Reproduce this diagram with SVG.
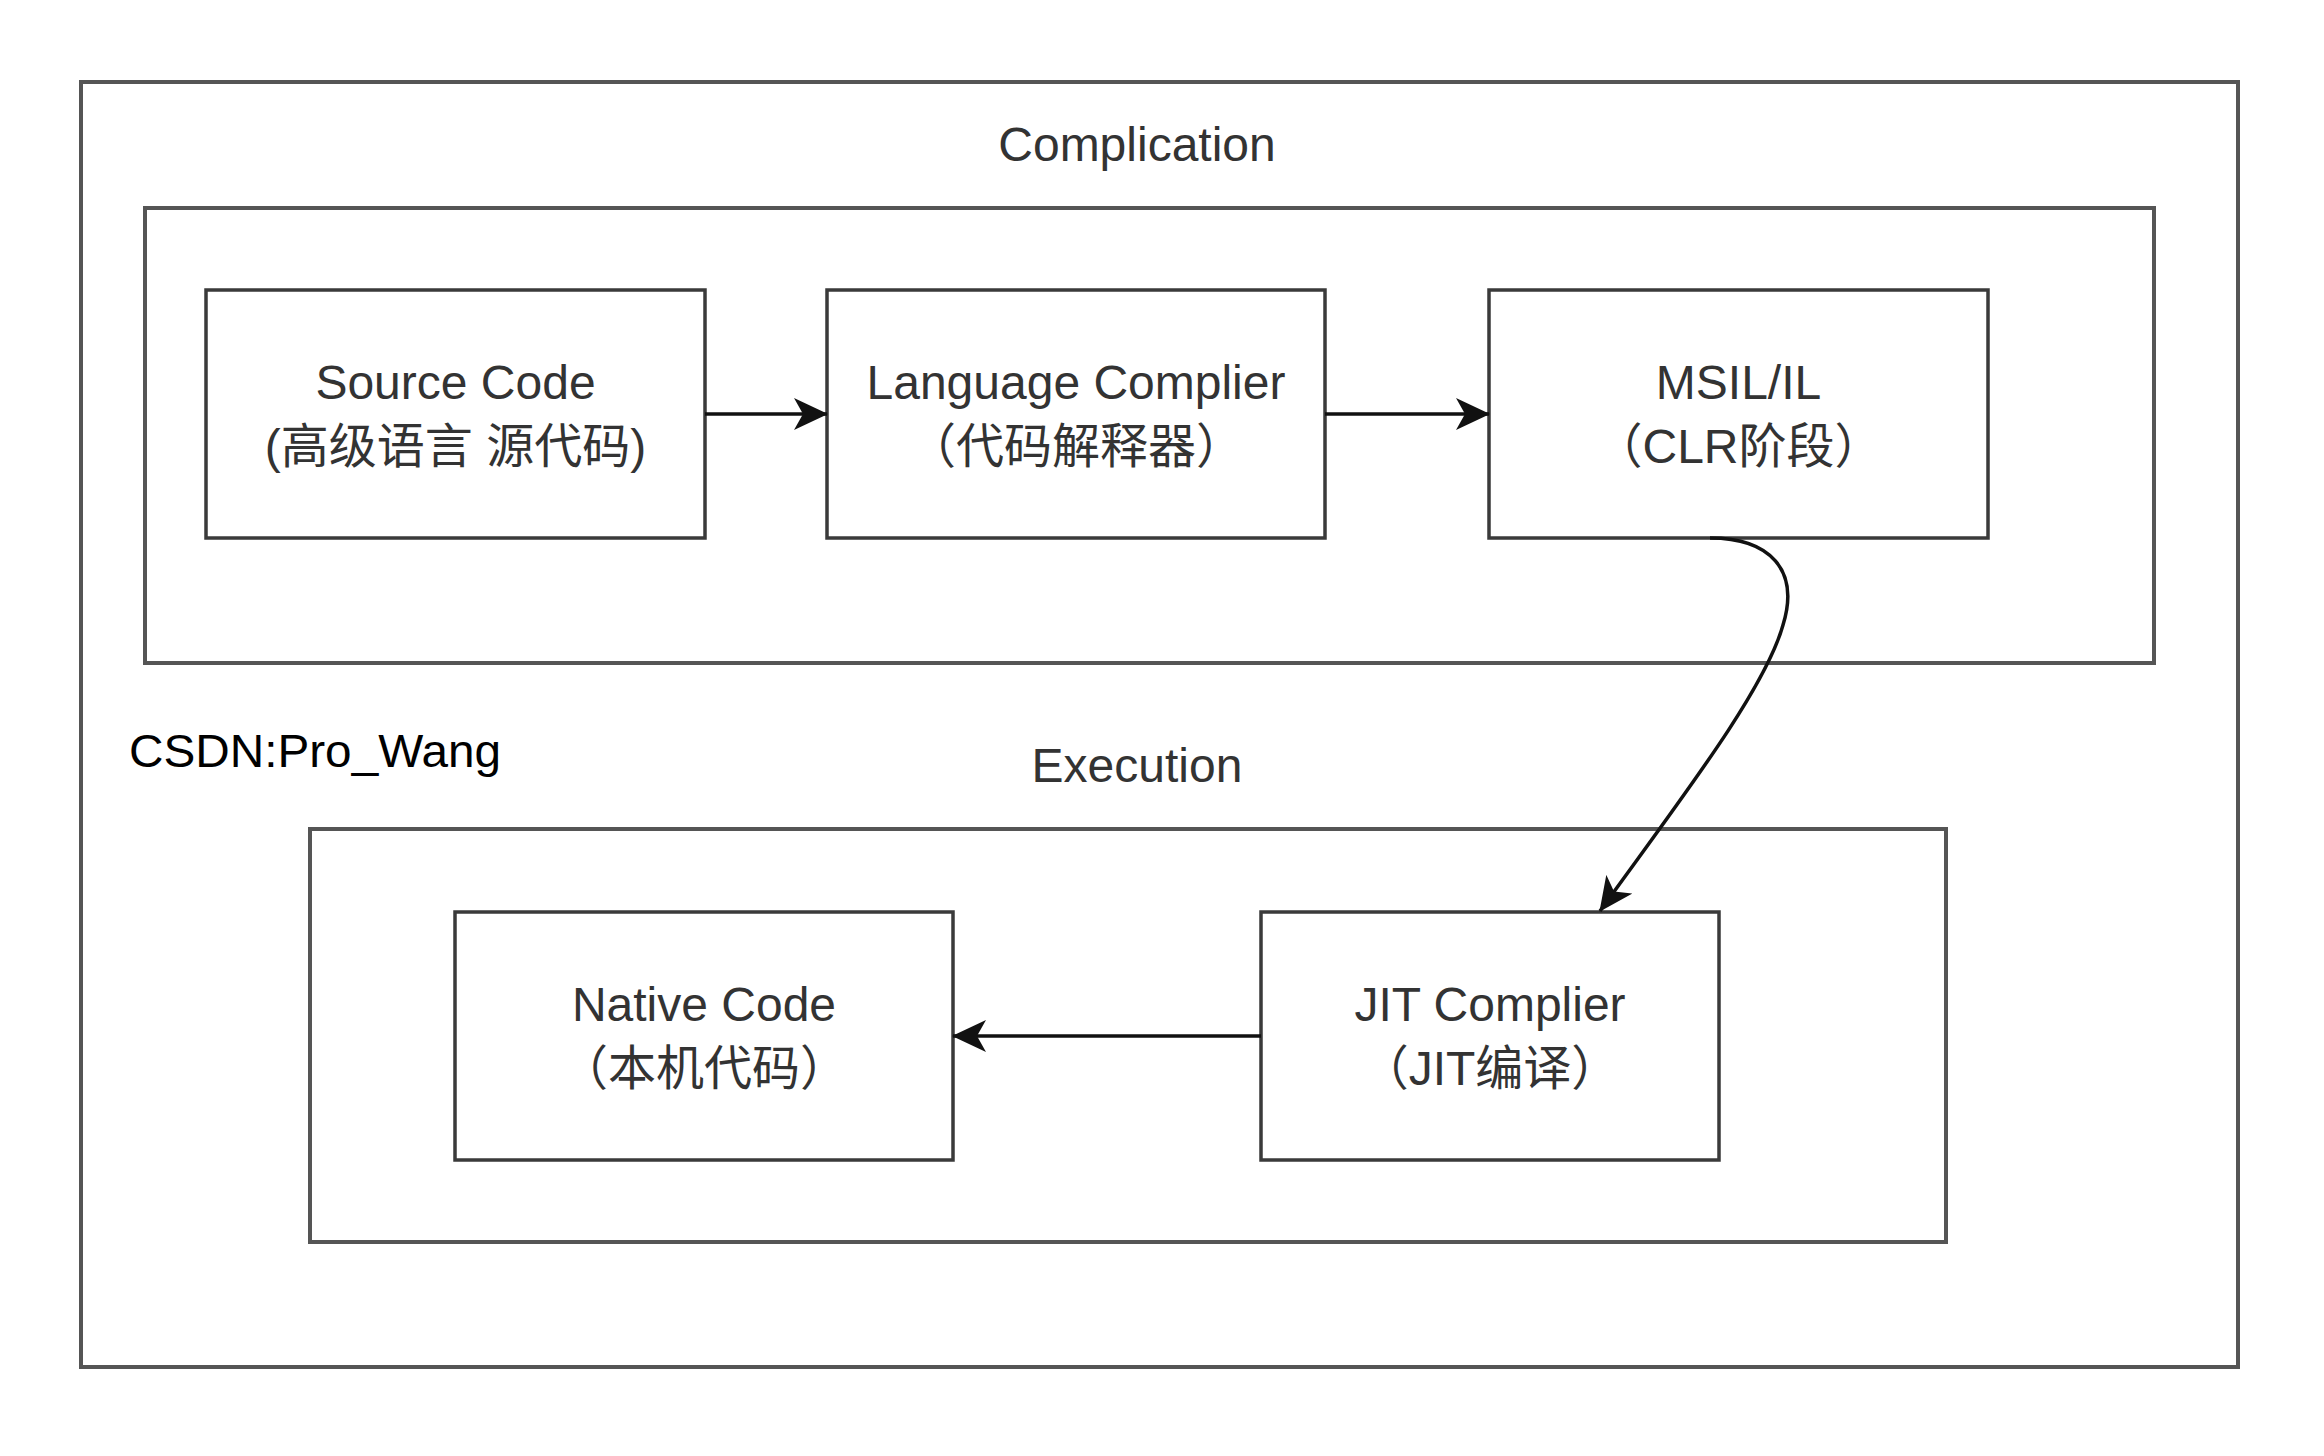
<svg xmlns="http://www.w3.org/2000/svg" width="2324" height="1456" viewBox="0 0 2324 1456">
<defs>
<style>
.box{fill:#ffffff;stroke:#3a3a3a;stroke-width:3.5}
.frame{fill:none;stroke:#555555;stroke-width:4}
.lbl{font-family:"Liberation Sans","Noto Sans CJK SC",Arial,sans-serif;font-size:48px;fill:#333333;text-anchor:middle}
.edge{fill:none;stroke:#111111;stroke-width:3.5}
</style>
<marker id="arr" viewBox="0 0 34 32" refX="33" refY="16" markerWidth="34" markerHeight="32" markerUnits="userSpaceOnUse" orient="auto">
<path d="M0,0 L34,16 L0,32 L9,16 z" fill="#111111"/>
</marker>
</defs>
<rect width="2324" height="1456" fill="#ffffff"/>
<g id="outer">
<rect class="frame" x="81" y="82" width="2157" height="1285"/>
<text class="lbl" x="1137" y="161">Complication</text>
</g>
<g id="compilation">
<rect class="frame" x="145" y="208" width="2009" height="455"/>
</g>
<g id="execution">
<rect class="frame" x="310" y="829" width="1636" height="413"/>
<text class="lbl" x="1137" y="782">Execution</text>
</g>
<g id="watermark">
<text x="129" y="767" font-family="'Liberation Sans',Arial,sans-serif" font-size="46" fill="#000000" textLength="372" lengthAdjust="spacingAndGlyphs">CSDN:Pro_Wang</text>
</g>
<g id="source-code">
<rect class="box" x="206" y="290" width="499" height="248"/>
<text class="lbl" x="455.5" y="399">Source Code</text>
<text class="lbl" x="455.5" y="463">(高级语言 源代码)</text>
</g>
<g id="language-compiler">
<rect class="box" x="827" y="290" width="498" height="248"/>
<text class="lbl" x="1076" y="399">Language Complier</text>
<text class="lbl" x="1076" y="463">（代码解释器）</text>
</g>
<g id="msil">
<rect class="box" x="1489" y="290" width="499" height="248"/>
<text class="lbl" x="1738.5" y="399">MSIL/IL</text>
<text class="lbl" x="1738.5" y="463">（CLR阶段）</text>
</g>
<g id="native-code">
<rect class="box" x="455" y="912" width="498" height="248"/>
<text class="lbl" x="704" y="1021">Native Code</text>
<text class="lbl" x="704" y="1085">（本机代码）</text>
</g>
<g id="jit-compiler">
<rect class="box" x="1261" y="912" width="458" height="248"/>
<text class="lbl" x="1490" y="1021">JIT Complier</text>
<text class="lbl" x="1490" y="1085">（JIT编译）</text>
</g>
<g id="connectors">
<line class="edge" x1="705" y1="414" x2="827" y2="414" marker-end="url(#arr)"/>
<line class="edge" x1="1325" y1="414" x2="1489" y2="414" marker-end="url(#arr)"/>
<line class="edge" x1="1261" y1="1036" x2="953" y2="1036" marker-end="url(#arr)"/>
<path class="edge" d="M1710,538 C1770,538 1800,570 1783,625 C1765,690 1680,800 1600,911" marker-end="url(#arr)"/>
</g>
</svg>
